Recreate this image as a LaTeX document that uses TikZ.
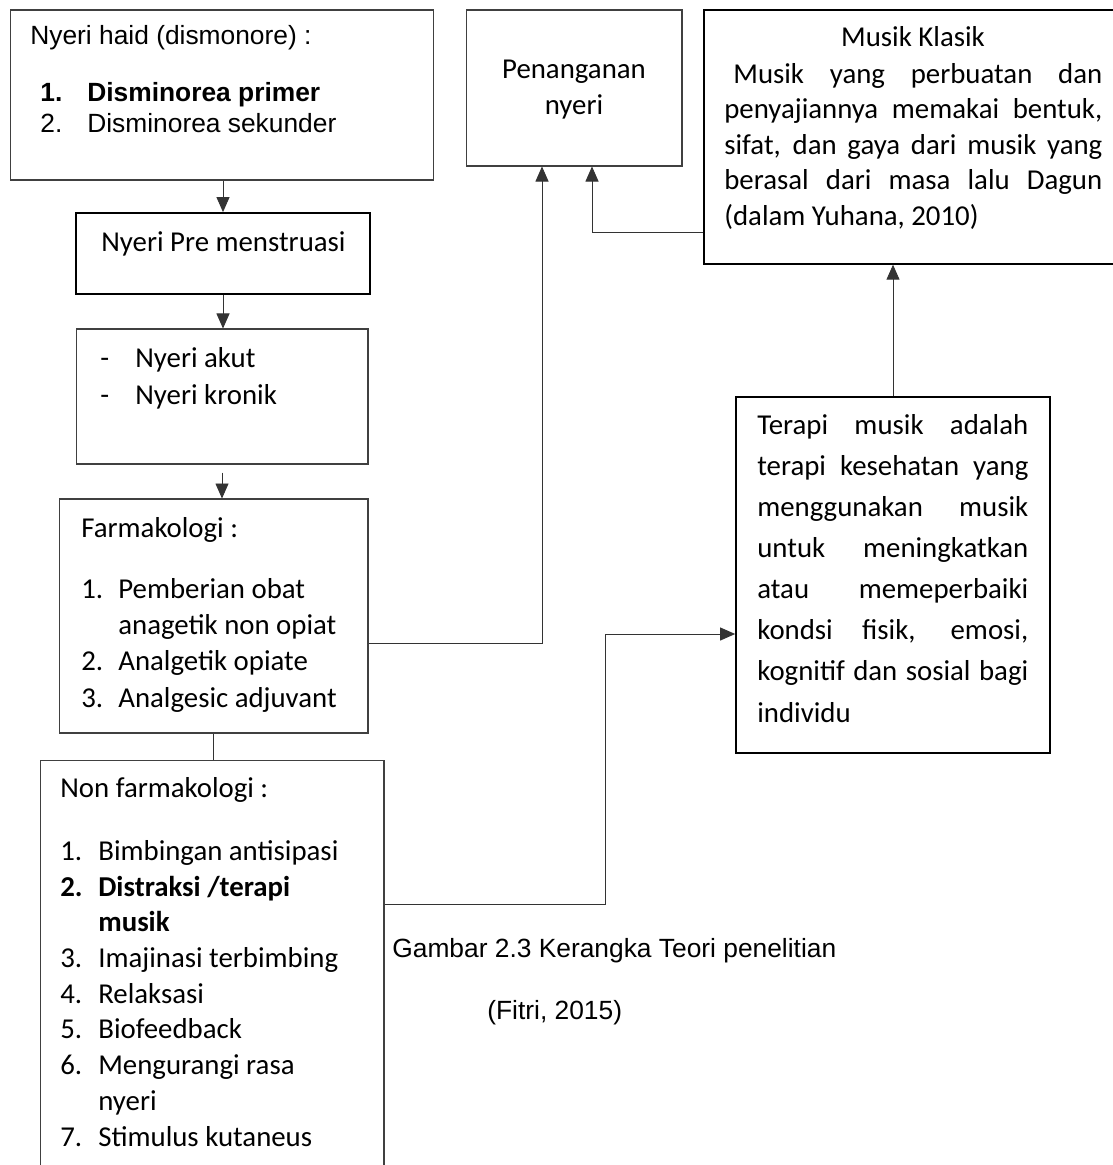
\documentclass[tikz,border=0pt]{standalone}
\usepackage{fontspec}
\setmainfont{Carlito}
\newfontfamily\arialfont{Liberation Sans}
\usetikzlibrary{arrows.meta,calc}

\begin{document}
\begin{tikzpicture}[x=0.02cm, y=-0.02cm,
    box/.style={draw=black!75, line width=0.6pt, inner sep=0pt},
    thickbox/.style={draw=black, line width=1pt, inner sep=0pt},
    txt/.style={anchor=base west, inner sep=0pt, font=\fontsize{16.4}{20}\selectfont},
    atxt/.style={anchor=base west, inner sep=0pt, font=\arialfont\fontsize{15}{18}\selectfont},
    line/.style={draw=black!80, line width=0.5pt},
    conn/.style={line, -{Triangle[length=0.3cm, width=0.26cm]}}]

    \useasboundingbox (0,0) rectangle (1112,1165);

    % boxes
    \node[box, minimum width=8.48cm, minimum height=3.4cm] (haid) at (222,95) {};
    \node[thickbox, minimum width=5.88cm, minimum height=1.62cm] (pre) at (223,253.5) {};
    \node[box, minimum width=5.84cm, minimum height=2.7cm] (akut) at (222,396.5) {};
    \node[box, minimum width=6.18cm, minimum height=4.68cm] (farmako) at (213.5,616) {};
    \node[box, minimum width=6.88cm, minimum height=8.6cm] (nonfarm) at (212,975) {};
    \node[box, minimum width=4.32cm, minimum height=3.12cm] (penanganan) at (574,88) {};
    \node[box, draw=black, line width=0.8pt, minimum width=8.42cm, minimum height=5.08cm] (klasik) at (914.5,137) {};
    \node[thickbox, minimum width=6.28cm, minimum height=7.12cm] (terapi) at (893,575) {};

    % texts
    \node[atxt] (haidjudul) at (30,45) {Nyeri haid (dismonore) :};
    \node[atxt] (haid1) at (40,102) {\bfseries\makebox[0.94cm][l]{1.}Disminorea primer};
    \node[atxt] (haid2) at (40,133) {\makebox[0.94cm][l]{2.}Disminorea sekunder};

    \node[txt] (pretxt) at (101,252) {Nyeri Pre menstruasi};

    \node[txt] (akut1) at (100,368) {\makebox[0.7cm][l]{-}Nyeri akut};
    \node[txt] (akut2) at (100,404) {\makebox[0.7cm][l]{-}Nyeri kronik};

    \node[txt] (farmakojudul) at (81,537) {Farmakologi :};
    \node[txt] (farmako1) at (81,598) {\makebox[0.74cm][l]{1.}Pemberian obat};
    \node[txt] (farmako1b) at (118,634) {anagetik non opiat};
    \node[txt] (farmako2) at (81,670) {\makebox[0.74cm][l]{2.}Analgetik opiate};
    \node[txt] (farmako3) at (81,707) {\makebox[0.74cm][l]{3.}Analgesic adjuvant};

    \node[txt] (nonfarmjudul) at (60,797) {Non farmakologi :};
    \node[txt] (nonfarm1) at (60,860) {\makebox[0.76cm][l]{1.}Bimbingan antisipasi};
    \node[txt] (nonfarm2) at (60,896) {\bfseries\makebox[0.76cm][l]{2.}Distraksi /terapi};
    \node[txt] (nonfarm2b) at (98,931) {\bfseries musik};
    \node[txt] (nonfarm3) at (60,967) {\makebox[0.76cm][l]{3.}Imajinasi terbimbing};
    \node[txt] (nonfarm4) at (60,1003) {\makebox[0.76cm][l]{4.}Relaksasi};
    \node[txt] (nonfarm5) at (60,1038) {\makebox[0.76cm][l]{5.}Biofeedback};
    \node[txt] (nonfarm6) at (60,1074) {\makebox[0.76cm][l]{6.}Mengurangi rasa};
    \node[txt] (nonfarm6b) at (98,1110) {nyeri};
    \node[txt] (nonfarm7) at (60,1146) {\makebox[0.76cm][l]{7.}Stimulus kutaneus};

    \node[txt, anchor=base] (pen1) at (574,79) {Penanganan};
    \node[txt, anchor=base] (pen2) at (574,115) {nyeri};

    \node[txt, anchor=base] (klasikjudul) at (913,47) {Musik Klasik};
    \node[txt] (klasik1) at (733,84) {\makebox[7.38cm][s]{Musik yang perbuatan dan}};
    \node[txt] (klasik2) at (724,119) {\makebox[7.56cm][s]{penyajiannya memakai bentuk,}};
    \node[txt] (klasik3) at (724,155) {\makebox[7.56cm][s]{sifat, dan gaya dari musik yang}};
    \node[txt] (klasik4) at (724,190) {\makebox[7.56cm][s]{berasal dari masa lalu Dagun}};
    \node[txt] (klasik5) at (724,226) {(dalam Yuhana, 2010)};

    \foreach \t [count=\i from 0] in {Terapi musik adalah, terapi kesehatan yang,
        menggunakan musik, untuk meningkatkan, atau memeperbaiki,
        {kondsi fisik, emosi,}, kognitif dan sosial bagi}
        \node[txt] (terapi\i) at (757,{434+41.1*\i}) {\makebox[5.42cm][s]{\t}};
    \node[txt] (terapi7) at (757,722) {individu};

    \node[atxt] (gambar) at (392,957) {Gambar 2.3 Kerangka Teori penelitian};
    \node[atxt] (sumber) at (487,1019) {(Fitri, 2015)};

    % connectors
    \draw[conn] (haid.south -| pre.north) -- (pre.north);
    \draw[conn] (pre.south) -- (pre.south |- akut.north);
    \draw[conn] ($(akut.south)+(0,8)$) -- (akut.south |- farmako.north);
    \draw[line] (farmako.south) -- (farmako.south |- nonfarm.north);
    \draw[conn] ($(farmako.east)+(0,27)$) -| ($(penanganan.south)+(-32,0)$);
    \draw[conn] ($(klasik.west)+(0,95)$) -| ($(penanganan.south)+(18,0)$);
    \draw[conn] (terapi.north) -- (terapi.north |- klasik.south);
    \draw[conn] ($(nonfarm.east)+(0,-71)$) -| ($(terapi.west)+(-130,59)$) -- ($(terapi.west)+(0,59)$);
\end{tikzpicture}
\end{document}
